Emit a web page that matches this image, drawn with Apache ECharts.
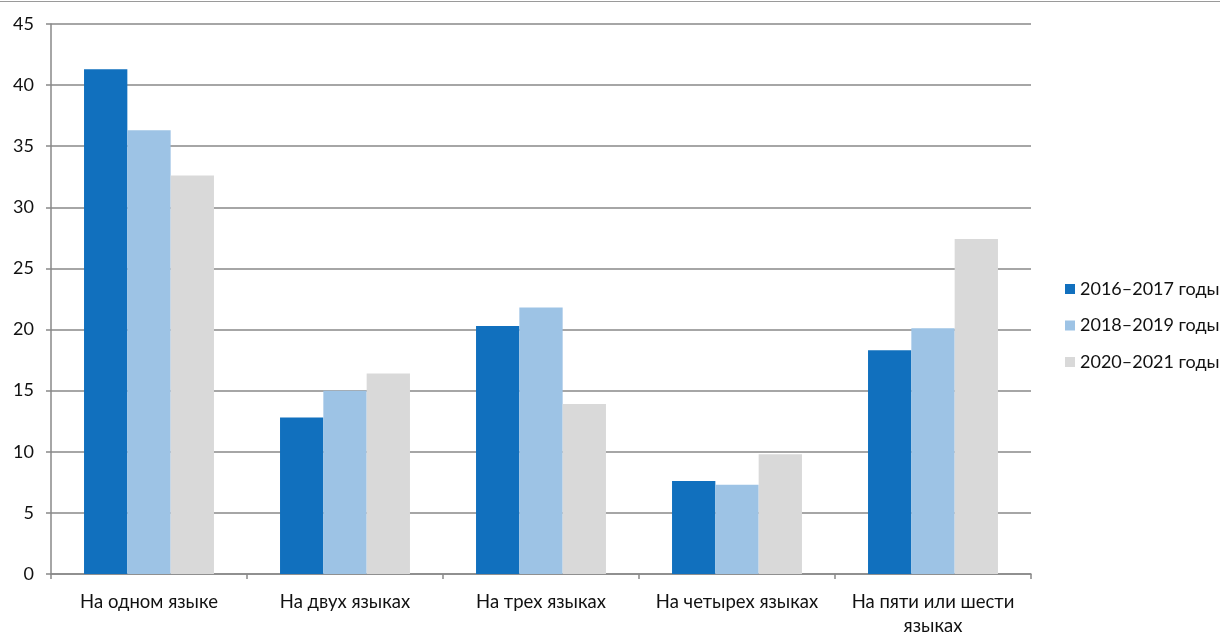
<!DOCTYPE html>
<html>
<head>
<meta charset="utf-8">
<script src="https://cdn.jsdelivr.net/npm/echarts@6/dist/echarts.min.js"></script>
<style>html,body{margin:0;padding:0;background:#fff}#c{width:1220px;height:632px}</style>
</head>
<body>
<div id="c"></div>
<script>
const categories = ['На одном языке', 'На двух языках', 'На трех языках', 'На четырех языках', 'На пяти или шести\nязыках'];
const seriesNames = ['2016–2017 годы', '2018–2019 годы', '2020–2021 годы'];
const s2016 = [41.3, 12.8, 20.3, 7.6, 18.3];
const s2018 = [36.3, 15.0, 21.8, 7.3, 20.1];
const s2020 = [32.6, 16.4, 13.9, 9.8, 27.4];
const yTicks = [0, 5, 10, 15, 20, 25, 30, 35, 40, 45];

const colors = ['#1170BE', '#9DC3E5', '#D9D9D9'];
const font = 'Lato, "Open Sans", sans-serif';
const chart = echarts.init(document.getElementById('c'));
const values = [s2016, s2018, s2020];
chart.setOption({
  animation: false,
  color: colors,
  grid: { left: 51, right: 189, top: 24, bottom: 58, containLabel: false, outerBoundsMode: 'none' },
  graphic: [{ type: 'line', shape: { x1: 0, y1: 1.5, x2: 1220, y2: 1.5 }, style: { stroke: '#9a9a9a', lineWidth: 1 } }],
  legend: {
    orient: 'vertical', left: 1060, top: 275,
    itemWidth: 10, itemHeight: 10, itemGap: 18.5,
    icon: 'rect',
    textStyle: { fontFamily: font, fontSize: 18, color: '#111' },
    data: seriesNames
  },
  xAxis: {
    type: 'category', data: categories,
    axisLine: { lineStyle: { color: '#898989', width: 1.5 } },
    axisTick: { show: true, length: 5, lineStyle: { color: '#898989', width: 1.5 } },
    axisLabel: { fontFamily: font, fontSize: 18.5, color: '#111', margin: 16, lineHeight: 24, interval: 0 }
  },
  yAxis: {
    type: 'value', min: 0, max: 45, interval: 5,
    axisLine: { show: true, lineStyle: { color: '#898989', width: 1.5 } },
    axisTick: { show: true, length: 5, lineStyle: { color: '#898989', width: 1.5 } },
    splitLine: { lineStyle: { color: '#898989', width: 1.5 } },
    axisLabel: { fontFamily: font, fontSize: 18, color: '#111', margin: 17,
      formatter: v => yTicks.includes(v) ? String(v) : '' }
  },
  series: values.map((d, i) => ({
    name: seriesNames[i], type: 'bar', data: d,
    barGap: '0%', barCategoryGap: '33.7%'
  }))
});
</script>
</body>
</html>
